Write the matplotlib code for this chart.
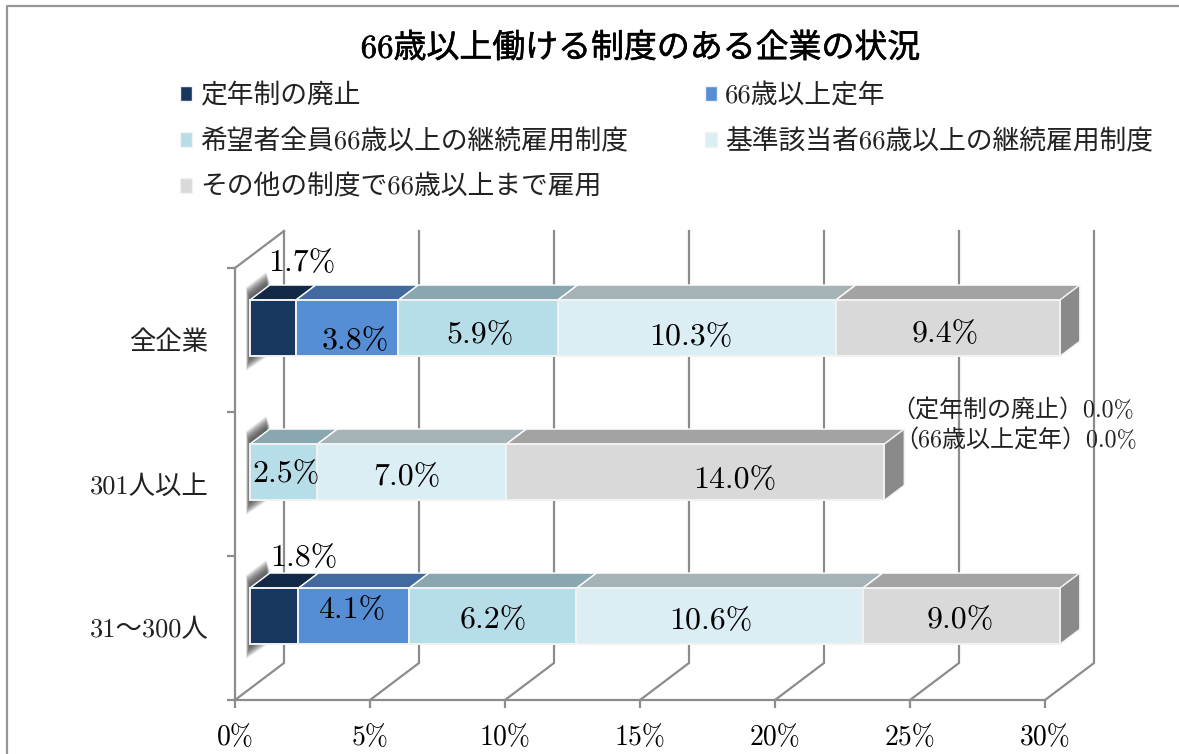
import numpy as np
import matplotlib
matplotlib.use('Agg')
import matplotlib.pyplot as plt
import matplotlib.patheffects as pe
from matplotlib.patches import Polygon, Patch
from matplotlib.lines import Line2D

plt.rcParams['font.family'] = ['cmr10', 'Noto Sans CJK JP', 'DejaVu Sans']
plt.rcParams['axes.unicode_minus'] = False

categories = ['全企業', '301人以上', '31〜300人']
series_names = ['定年制の廃止', '66歳以上定年', '希望者全員66歳以上の継続雇用制度',
                '基準該当者66歳以上の継続雇用制度', 'その他の制度で66歳以上まで雇用']
abolished = [1.7, 0.0, 1.8]
over_66 = [3.8, 0.0, 4.1]
all_applicants = [5.9, 2.5, 6.2]
qualified = [10.3, 7.0, 10.6]
other = [9.4, 14.0, 9.0]
x_ticks = [0, 5, 10, 15, 20, 25, 30]

series = [abolished, over_66, all_applicants, qualified, other]
face_colors = ['#17375E', '#558ED5', '#B7DEE8', '#DBEEF4', '#D9D9D9']
top_colors = ['#122A48', '#416A9F', '#89A7AE', '#A5B3B7', '#A3A3A3']
side_color = '#8A8A8A'
line_color = '#8C8C8C'

# label nudges in pixels from the middle of each segment (right, up), skip zeros
label_nudge = [
    [(29, 65), (8, -13), (2, -7), (-6, -9), (-2, -6)],
    [None, None, (3, -2), (-5, -5), (40, -8)],
    [(30, 58), (-2, 6), (1, -4), (-9, -5), (-1, -4)],
]

# oblique depth of the chart box, in data units
DEPTH_X = 49 / 27
DEPTH_Y = 37 / 144
BAR_FRONT = 0.3
BAR_BACK = 0.71
BAR_HALF = 0.195
X_MAX = 30


def proj(x, y, depth):
    return (x + depth * DEPTH_X, y - depth * DEPTH_Y)


fig = plt.figure(figsize=(11.79, 7.54), dpi=100)
ax = fig.add_axes([235 / 1179, 54 / 754, 810 / 1179, 432 / 754])
ax.set_xlim(0, X_MAX)
ax.set_ylim(3, 0)

# outer frame of the chart
fig.add_artist(Line2D([7 / 1179, 7 / 1179, 1], [0, 748 / 754, 748 / 754],
                      color='#969696', lw=1.6))

for s in ['top', 'right']:
    ax.spines[s].set_visible(False)
for s in ['left', 'bottom']:
    ax.spines[s].set_color(line_color)
    ax.spines[s].set_linewidth(1.6)

ax.set_xticks(x_ticks)
ax.set_xticklabels([f'{t}%' for t in x_ticks], fontsize=20)
ax.set_yticks([0, 1, 2, 3])
ax.set_yticklabels([])
ax.set_yticks([0.5, 1.5, 2.5], minor=True)
ax.set_yticklabels(categories, minor=True, fontsize=19, color='#222222')
ax.tick_params(axis='x', length=6, width=1.6, color=line_color, pad=12)
ax.tick_params(axis='y', which='major', length=6, width=1.6, color=line_color)
ax.tick_params(axis='y', which='minor', length=0, pad=19)

# back wall and floor lines
for t in x_ticks:
    bx, by_top = proj(t, 0, 1)
    _, by_bot = proj(t, 3, 1)
    ax.plot([bx, bx, t], [by_top, by_bot, 3], color=line_color, lw=1.6,
            clip_on=False, zorder=1, solid_joinstyle='miter')
bx, by_top = proj(0, 0, 1)
ax.plot([0, bx], [0, by_top], color=line_color, lw=1.6, clip_on=False, zorder=1)

# bars, painted left to right so the white seams stay visible
for row, cat in enumerate(categories):
    yc = row + 0.5 - 0.004
    y0, y1 = yc - BAR_HALF, yc + BAR_HALF

    # soft shadow at the left end of the bar
    for k in range(12):
        grow = (12 - k) / 12
        shadow = [proj(-0.13 * grow, y0 - 0.02 - 0.07 * grow, BAR_BACK),
                  proj(-0.13 * grow, y0 - 0.02 - 0.07 * grow, BAR_FRONT),
                  proj(-0.13 * grow, y1 + 0.01 + 0.09 * grow, BAR_FRONT),
                  proj(-0.05 * grow, y1 + 0.01 + 0.09 * grow, BAR_BACK)]
        ax.add_patch(Polygon(shadow, closed=True, facecolor='#383838', edgecolor='none',
                             alpha=0.11, clip_on=False, zorder=2))

    left = 0.0
    end = 0.0
    for i, vals in enumerate(series):
        val = vals[row]
        if val == 0:
            continue
        right = min(left + val, X_MAX)
        face = [proj(left, y0, BAR_FRONT), proj(right, y0, BAR_FRONT),
                proj(right, y1, BAR_FRONT), proj(left, y1, BAR_FRONT)]
        top = [proj(left, y0, BAR_FRONT), proj(right, y0, BAR_FRONT),
               proj(right, y0, BAR_BACK), proj(left, y0, BAR_BACK)]
        ax.add_patch(Polygon(top, closed=True, facecolor=top_colors[i], edgecolor='white',
                             lw=1.0, clip_on=False, zorder=3))
        ax.add_patch(Polygon(face, closed=True, facecolor=face_colors[i], edgecolor='#F2F2F2',
                             lw=1.4, clip_on=False, zorder=4))
        mid = proj((left + right) / 2, yc, BAR_FRONT)
        ax.annotate(f'{val:.1f}%', xy=mid, xycoords='data', xytext=label_nudge[row][i],
                    textcoords='offset pixels', ha='center', va='center',
                    fontsize=23, color='black', zorder=6, annotation_clip=False)
        left += val
        end = right
    side = [proj(end, y0, BAR_FRONT), proj(end, y0, BAR_BACK),
            proj(end, y1, BAR_BACK), proj(end, y1, BAR_FRONT)]
    ax.add_patch(Polygon(side, closed=True, facecolor=side_color, edgecolor='#F2F2F2',
                         lw=1.0, clip_on=False, zorder=3))

# the zero segments of the 301+ row are noted beside the bar
fig.text(1013 / 1179, 1 - 411 / 754, f'（{series_names[0]}）{abolished[1]:.1f}%',
         ha='center', va='center', fontsize=17.3, color='#222222')
fig.text(1016 / 1179, 1 - 441 / 754, f'（{series_names[1]}）{over_66[1]:.1f}%',
         ha='center', va='center', fontsize=17.3, color='#222222')

title = fig.text(640 / 1179, 1 - 48 / 754, '66歳以上働ける制度のある企業の状況',
                 ha='center', va='center', fontsize=23.7, color='black')
title.set_path_effects([pe.withStroke(linewidth=0.4, foreground='black')])

# legend fills by column, so the series are handed over in that order
order = [0, 2, 4, 1, 3]
handles = [Patch(facecolor=face_colors[i], edgecolor='#F2F2F2', label=series_names[i]) for i in order]
fig.legend(handles=handles, ncol=2, loc='upper left', bbox_to_anchor=(180 / 1179, 1 - 83 / 754),
           frameon=False, fontsize=19.3, handlelength=0.45, handleheight=0.45, handletextpad=0.3,
           labelspacing=0.77, columnspacing=2.85, labelcolor='#222222', borderpad=0, borderaxespad=0)

fig.savefig('out.png', dpi=100)
